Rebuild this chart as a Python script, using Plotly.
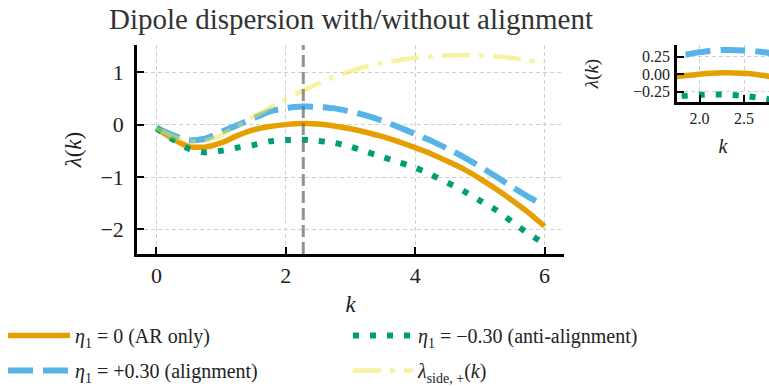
import plotly.graph_objects as go

# ---------------- data ----------------
k = [0.0, 0.25, 0.5, 0.75, 1.0, 1.25, 1.5, 1.75, 2.0, 2.25, 2.5, 2.75, 3.0,
     3.25, 3.5, 3.75, 4.0, 4.25, 4.5, 4.75, 5.0, 5.25, 5.5, 5.75, 6.0]
lam_eta0 = [-0.07, -0.27, -0.42, -0.43, -0.35, -0.21, -0.10, -0.035, 0.0, 0.02,
            0.012, -0.025, -0.08, -0.15, -0.23, -0.33, -0.44, -0.56, -0.70,
            -0.85, -1.03, -1.23, -1.45, -1.68, -1.94]
lam_eta_pos = [-0.06, -0.20, -0.30, -0.27, -0.14, -0.01, 0.12, 0.25, 0.315,
               0.345, 0.34, 0.31, 0.25, 0.17, 0.07, -0.05, -0.18, -0.31, -0.46,
               -0.62, -0.80, -0.99, -1.19, -1.38, -1.55]
lam_eta_neg = [-0.07, -0.28, -0.46, -0.53, -0.50, -0.44, -0.39, -0.32, -0.295,
               -0.29, -0.31, -0.35, -0.42, -0.52, -0.62, -0.72, -0.82, -0.96,
               -1.11, -1.27, -1.45, -1.63, -1.86, -2.08, -2.28]
lam_side = [-0.07, -0.22, -0.32, -0.31, -0.20, -0.03, 0.15, 0.32, 0.49, 0.64,
            0.78, 0.91, 1.02, 1.11, 1.18, 1.23, 1.27, 1.30, 1.32, 1.33, 1.32,
            1.30, 1.27, 1.23, 1.18]
k_star = 2.27

names = ["<i>η</i><sub>1</sub> = 0 (AR only)",
         "<i>η</i><sub>1</sub> = +0.30 (alignment)",
         "<i>η</i><sub>1</sub> = −0.30 (anti-alignment)",
         "<i>λ</i><sub>side, +</sub>(<i>k</i>)"]

main_xticks = [0, 2, 4, 6]
main_yticks = [-2, -1, 0, 1]
inset_xticks = [2.0, 2.5]
inset_xtext = ["2.0", "2.5"]
inset_yticks = [-0.25, 0.0, 0.25]
inset_ytext = ["−0.25", "0.00", "0.25"]

# ---------------- styles ----------------
FONT = "Liberation Serif, Times New Roman, serif"
W, H = 769, 386
C_OR = "#E69F00"
C_BL = "#56B4E9"
C_GR = "#009E73"
C_YE = "rgba(240,228,66,0.5)"
TXT = "#222222"

styles = [
    dict(color=C_OR, width=5.5),
    dict(color=C_BL, width=6, dash="25px,10px"),
    dict(color=C_GR, width=6, dash="6px,11px"),
    dict(color=C_YE, width=4.5, dash="28px,9px,5px,9px"),
]
series = [lam_eta0, lam_eta_pos, lam_eta_neg, lam_side]
legends = ["legend", "legend", "legend2", "legend2"]

fig = go.Figure()
for i, (ys, st, nm, lg) in enumerate(zip(series, styles, names, legends)):
    fig.add_trace(go.Scatter(
        x=k, y=ys, mode="lines", name=nm, line=dict(shape="spline", smoothing=0.6, **st),
        legend=lg, legendgroup=f"g{i}", xaxis="x", yaxis="y", hoverinfo="skip"))

# inset (no side curve)
for i, (ys, st) in enumerate(zip(series[:3], styles[:3])):
    fig.add_trace(go.Scatter(
        x=k, y=ys, mode="lines", line=dict(shape="spline", smoothing=0.6, **st),
        showlegend=False, xaxis="x2", yaxis="y2", hoverinfo="skip"))


def px_x(p):
    return p / W


def px_y(p):
    return 1 - p / H


grid = dict(showgrid=True, gridcolor="#cfcfcf", gridwidth=1, griddash="4px,3px")
axline = dict(showline=True, linecolor="black", linewidth=2.5, ticks="inside",
              ticklen=7, tickwidth=2, tickcolor="black", zeroline=False, mirror=False,
              automargin=False)


def f(size):
    return dict(size=size, family=FONT, color=TXT)


fig.update_layout(
    width=W, height=H,
    margin=dict(l=0, r=0, t=0, b=0, autoexpand=False),
    paper_bgcolor="white", plot_bgcolor="white",
    font=f(20),
    title=dict(text="Dipole dispersion with/without alignment", x=351 / W, xanchor="center",
               y=px_y(19), yanchor="middle", font=dict(size=29, family=FONT, color="#333333")),
    xaxis=dict(domain=[px_x(137), px_x(564)], range=[-0.3, 6.3], tickvals=main_xticks,
               tickfont=f(22), anchor="y",
               title=dict(text="<i>k</i>", font=f(23), standoff=9),
               ticklabelstandoff=0, **grid, **axline),
    yaxis=dict(domain=[px_y(254), px_y(45)], range=[-2.47, 1.52], tickvals=main_yticks,
               tickfont=f(22), anchor="x",
               title=dict(text="<i>λ</i>(<i>k</i>)", font=f(23), standoff=13),
               ticklabelstandoff=6, **grid, **axline),
    xaxis2=dict(domain=[px_x(677), 1.0], range=[1.747, 2.78], tickvals=inset_xticks,
                ticktext=inset_xtext, tickfont=f(16), anchor="y2",
                title=dict(text="<i>k</i>", font=f(20), standoff=14),
                ticklabelstandoff=0, **grid, **axline),
    yaxis2=dict(domain=[px_y(102), px_y(45)], range=[-0.397, 0.417], tickvals=inset_yticks,
                ticktext=inset_ytext, tickfont=f(16), anchor="x2",
                title=dict(text="<i>λ</i>(<i>k</i>)", font=f(19), standoff=30),
                ticklabelstandoff=1, **grid, **axline),
    legend=dict(x=px_x(3), y=px_y(316), xanchor="left", yanchor="top",
                font=f(20), tracegroupgap=6,
                bgcolor="rgba(0,0,0,0)", itemwidth=62),
    legend2=dict(x=px_x(348), y=px_y(316), xanchor="left", yanchor="top",
                 font=f(20), tracegroupgap=6,
                 bgcolor="rgba(0,0,0,0)", itemwidth=60),
)

fig.add_shape(type="line", xref="x", yref="y domain", x0=k_star, x1=k_star, y0=0, y1=1,
              line=dict(color="rgba(110,110,110,0.75)", width=3, dash="12px,5px"))

fig.write_html("out.html")
